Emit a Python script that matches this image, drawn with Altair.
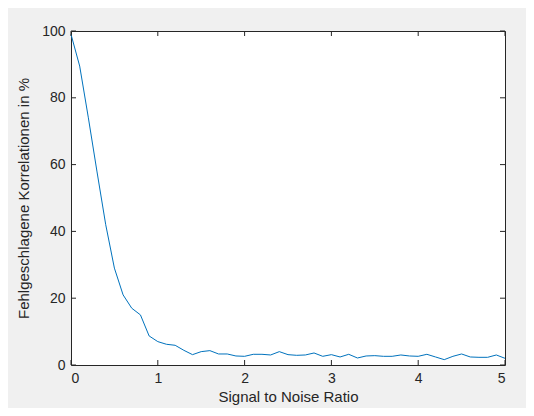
import pandas as pd
import altair as alt

# signal to noise ratio (0 .. 5, step 0.1)
snr = [round(i * 0.1, 1) for i in range(51)]
# failed correlations in percent
failed = [99, 89.5, 74, 57.8, 42, 29, 21, 17, 15, 8.7,
          7.0, 6.2, 5.9, 4.4, 3.1, 4.0, 4.3, 3.3, 3.3, 2.7,
          2.6, 3.2, 3.2, 3.0, 4.0, 3.1, 2.9, 3.0, 3.6, 2.6,
          3.1, 2.4, 3.2, 2.1, 2.7, 2.8, 2.6, 2.6, 3.0, 2.7,
          2.6, 3.2, 2.4, 1.6, 2.6, 3.3, 2.4, 2.3, 2.3, 3.0, 2.0]
x_ticks = [0, 1, 2, 3, 4, 5]
y_ticks = [0, 20, 40, 60, 80, 100]

W, H = 434, 334
font = "Liberation Sans"

df = pd.DataFrame({"snr": snr, "failed": failed})

xs = alt.Scale(domain=[0, 5], nice=False)
ys = alt.Scale(domain=[0, 100], nice=False)

line = alt.Chart(df).mark_line(color="#0072BD", strokeWidth=1).encode(
    x=alt.X("snr:Q", scale=xs, title="Signal to Noise Ratio",
            axis=alt.Axis(values=x_ticks, format="d", ticks=False, grid=False, domain=False,
                          labelPadding=6, titlePadding=4)),
    y=alt.Y("failed:Q", scale=ys, title="Fehlgeschlagene Korrelationen in %",
            axis=alt.Axis(values=y_ticks, format="d", ticks=False, grid=False, domain=False,
                          labelPadding=6, titlePadding=10)),
)

# inward ticks, MATLAB style
xt = pd.DataFrame({"t": x_ticks})
yt = pd.DataFrame({"t": y_ticks})
tick_color = "#262626"
xb = alt.Chart(xt).mark_rule(color=tick_color).encode(x=alt.X("t:Q", scale=xs), y=alt.value(H), y2=alt.value(H - 5))
xtop = alt.Chart(xt).mark_rule(color=tick_color).encode(x=alt.X("t:Q", scale=xs), y=alt.value(0), y2=alt.value(5))
yl = alt.Chart(yt).mark_rule(color=tick_color).encode(y=alt.Y("t:Q", scale=ys), x=alt.value(0), x2=alt.value(5))
yr = alt.Chart(yt).mark_rule(color=tick_color).encode(y=alt.Y("t:Q", scale=ys), x=alt.value(W), x2=alt.value(W - 5))

chart = alt.layer(line, xb, xtop, yl, yr).properties(
    width=W, height=H, background="#f0f0f0",
    padding={"left": 63, "top": 23, "right": 21, "bottom": 43},
    autosize=alt.AutoSizeParams(type="none"),
).configure_view(fill="white", stroke=tick_color, strokeWidth=1).configure_axis(
    labelFont=font, titleFont=font, labelFontSize=14, titleFontSize=15,
    labelColor=tick_color, titleColor=tick_color, titleFontWeight="normal",
)

chart.save("out.html", embed_options={"renderer": "svg", "actions": False})
